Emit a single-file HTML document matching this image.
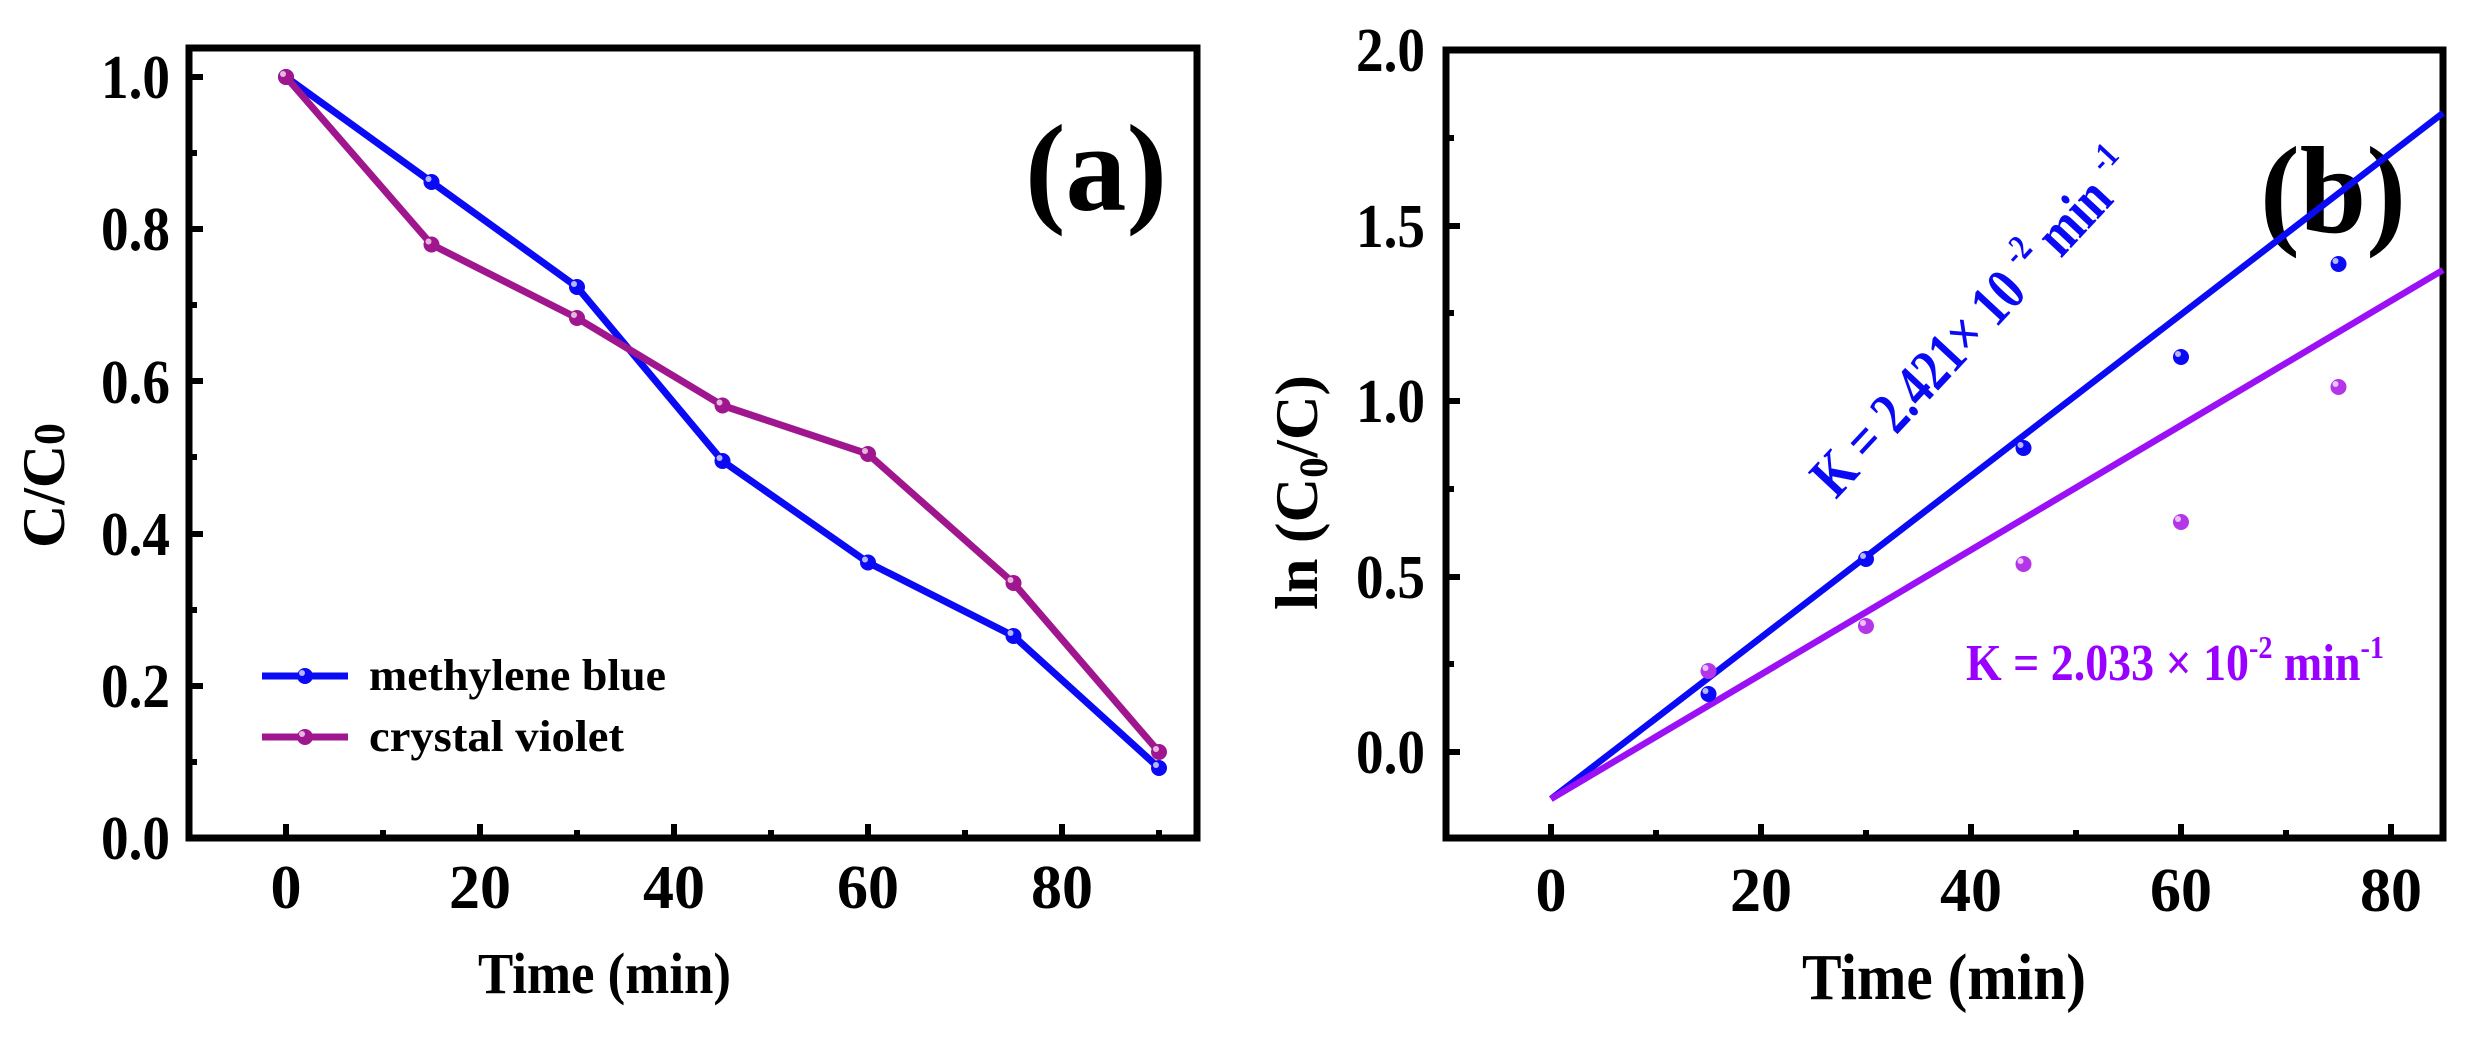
<!DOCTYPE html>
<html><head><meta charset="utf-8"><style>
html,body{margin:0;padding:0;background:#fff;}
svg{display:block;}
text{font-family:"Liberation Serif",serif;font-weight:bold;}
</style></head><body>
<svg width="2468" height="1042" viewBox="0 0 2468 1042" xmlns="http://www.w3.org/2000/svg">
<rect width="2468" height="1042" fill="#fff"/>
<!-- Panel A -->
<g stroke="#000" stroke-width="6" fill="none" stroke-linecap="butt">
<rect x="189" y="48" width="1008" height="790" stroke-width="7"/>
<path d="M189 838h14M189 762h8M189 686h14M189 610h8M189 534h14M189 457h8M189 381h14M189 305h8M189 229h14M189 153h8M189 77h14"/>
<path d="M286 838v-14M383 838v-8M480 838v-14M577 838v-8M674 838v-14M771 838v-8M868 838v-14M965 838v-8M1062 838v-14M1159 838v-8"/>
</g>
<g font-size="62" text-anchor="end">
<text x="170" y="859" textLength="69" lengthAdjust="spacingAndGlyphs">0.0</text>
<text x="170" y="707" textLength="69" lengthAdjust="spacingAndGlyphs">0.2</text>
<text x="170" y="555" textLength="69" lengthAdjust="spacingAndGlyphs">0.4</text>
<text x="170" y="403" textLength="69" lengthAdjust="spacingAndGlyphs">0.6</text>
<text x="170" y="250" textLength="69" lengthAdjust="spacingAndGlyphs">0.8</text>
<text x="170" y="98" textLength="69" lengthAdjust="spacingAndGlyphs">1.0</text>
</g>
<g font-size="62" text-anchor="middle">
<text x="286" y="908">0</text><text x="480" y="908">20</text><text x="674" y="908">40</text><text x="868" y="908">60</text><text x="1062" y="908">80</text>
</g>
<text x="478" y="993" font-size="58" textLength="253" lengthAdjust="spacingAndGlyphs">Time (min)</text>
<text transform="translate(64,548) rotate(-90)" font-size="60" textLength="125" lengthAdjust="spacingAndGlyphs">C/C<tspan font-size="44">0</tspan></text>
<text x="1025" y="210" font-size="124" textLength="142" lengthAdjust="spacingAndGlyphs">(a)</text>
<polyline fill="none" stroke="#0a0af5" stroke-width="7" stroke-linejoin="round" points="286,77 431.5,182 577,287 722.5,461 868,562.5 1013.5,636 1159,768"/>
<polyline fill="none" stroke="#a0168e" stroke-width="7" stroke-linejoin="round" points="286,77 431.5,244.5 577,318 722.5,405.5 868,454 1013.5,583 1159,752"/>
<g fill="#0a0af5">
<circle cx="286" cy="77" r="8"/><circle cx="431.5" cy="182" r="8"/><circle cx="577" cy="287" r="8"/><circle cx="722.5" cy="461" r="8"/><circle cx="868" cy="562.5" r="8"/><circle cx="1013.5" cy="636" r="8"/><circle cx="1159" cy="768" r="8"/>
</g>
<g fill="#a0168e">
<circle cx="286" cy="77" r="8"/><circle cx="431.5" cy="244.5" r="8"/><circle cx="577" cy="318" r="8"/><circle cx="722.5" cy="405.5" r="8"/><circle cx="868" cy="454" r="8"/><circle cx="1013.5" cy="583" r="8"/><circle cx="1159" cy="752" r="8"/>
</g>
<line x1="262" y1="676" x2="348" y2="676" stroke="#0a0af5" stroke-width="7"/>
<circle cx="305" cy="676" r="8" fill="#0a0af5"/>
<line x1="262" y1="737" x2="348" y2="737" stroke="#a0168e" stroke-width="7"/>
<circle cx="305" cy="737" r="8" fill="#a0168e"/>
<text x="369" y="690" font-size="44" textLength="297" lengthAdjust="spacingAndGlyphs">methylene blue</text>
<text x="369" y="751" font-size="44" textLength="255" lengthAdjust="spacingAndGlyphs">crystal violet</text>

<!-- Panel B -->
<g stroke="#000" stroke-width="6" fill="none">
<rect x="1446" y="50" width="997" height="788" stroke-width="7"/>
<path d="M1446 752h14M1446 664h8M1446 577h14M1446 489h8M1446 401h14M1446 313h8M1446 226h14M1446 138h8M1446 50h14"/>
<path d="M1551 838v-14M1656 838v-8M1761 838v-14M1866 838v-8M1971 838v-14M2076 838v-8M2181 838v-14M2286 838v-8M2391 838v-14"/>
</g>
<g font-size="62" text-anchor="end">
<text x="1425" y="773" textLength="69" lengthAdjust="spacingAndGlyphs">0.0</text>
<text x="1425" y="598" textLength="69" lengthAdjust="spacingAndGlyphs">0.5</text>
<text x="1425" y="422" textLength="69" lengthAdjust="spacingAndGlyphs">1.0</text>
<text x="1425" y="247" textLength="69" lengthAdjust="spacingAndGlyphs">1.5</text>
<text x="1425" y="71" textLength="69" lengthAdjust="spacingAndGlyphs">2.0</text>
</g>
<g font-size="62" text-anchor="middle">
<text x="1551" y="911">0</text><text x="1761" y="911">20</text><text x="1971" y="911">40</text><text x="2181" y="911">60</text><text x="2391" y="911">80</text>
</g>
<text x="1802" y="999" font-size="66" textLength="284" lengthAdjust="spacingAndGlyphs">Time (min)</text>
<text transform="translate(1317,610) rotate(-90)" font-size="60" textLength="235" lengthAdjust="spacingAndGlyphs">ln (C<tspan font-size="40" dy="10">0</tspan><tspan dy="-10">/C)</tspan></text>
<text x="2260" y="232" font-size="124" textLength="146" lengthAdjust="spacingAndGlyphs">(b)</text>
<line x1="1551" y1="799" x2="2443" y2="113" stroke="#0a0af5" stroke-width="6.5"/>
<line x1="1551" y1="799" x2="2443" y2="270" stroke="#9b10f5" stroke-width="6.5"/>
<g fill="#0a0af5">
<circle cx="1708.5" cy="694" r="8"/><circle cx="1866" cy="559" r="8"/><circle cx="2023.5" cy="448" r="8"/><circle cx="2181" cy="357" r="8"/><circle cx="2338.5" cy="264" r="8"/>
</g>
<g fill="#b535e8">
<circle cx="1708.5" cy="671" r="8"/><circle cx="1866" cy="626" r="8"/><circle cx="2023.5" cy="564" r="8"/><circle cx="2181" cy="522" r="8"/><circle cx="2338.5" cy="387" r="8"/>
</g>
<g fill="#fff" opacity="0.7">
<circle cx="283" cy="74" r="3"/><circle cx="428.5" cy="179" r="3"/><circle cx="574" cy="284" r="3"/><circle cx="719.5" cy="458" r="3"/><circle cx="865" cy="559.5" r="3"/><circle cx="1010.5" cy="633" r="3"/><circle cx="1156" cy="765" r="3"/>
<circle cx="428.5" cy="241.5" r="3"/><circle cx="574" cy="315" r="3"/><circle cx="719.5" cy="402.5" r="3"/><circle cx="865" cy="451" r="3"/><circle cx="1010.5" cy="580" r="3"/><circle cx="1156" cy="749" r="3"/>
<circle cx="302" cy="673" r="3"/><circle cx="302" cy="734" r="3"/>
<circle cx="1705.5" cy="691" r="3"/><circle cx="1863" cy="556" r="3"/><circle cx="2020.5" cy="445" r="3"/><circle cx="2178" cy="354" r="3"/><circle cx="2335.5" cy="261" r="3"/>
<circle cx="1705.5" cy="668" r="3"/><circle cx="1863" cy="623" r="3"/><circle cx="2020.5" cy="561" r="3"/><circle cx="2178" cy="519" r="3"/><circle cx="2335.5" cy="384" r="3"/>
</g>
<text x="1966" y="680" font-size="52" fill="#9900ff" textLength="418" lengthAdjust="spacingAndGlyphs">K = 2.033 × 10<tspan font-size="32" dy="-22">-2</tspan><tspan dy="22"> min</tspan><tspan font-size="32" dy="-22">-1</tspan></text>
<text transform="translate(1836,500) rotate(-47)" font-size="60" fill="#0a0af5" textLength="445" lengthAdjust="spacingAndGlyphs">K = 2.421× 10 <tspan font-size="36" dy="-26">-2</tspan><tspan dy="26"> min </tspan><tspan font-size="36" dy="-26">-1</tspan></text>
</svg>
</body></html>
